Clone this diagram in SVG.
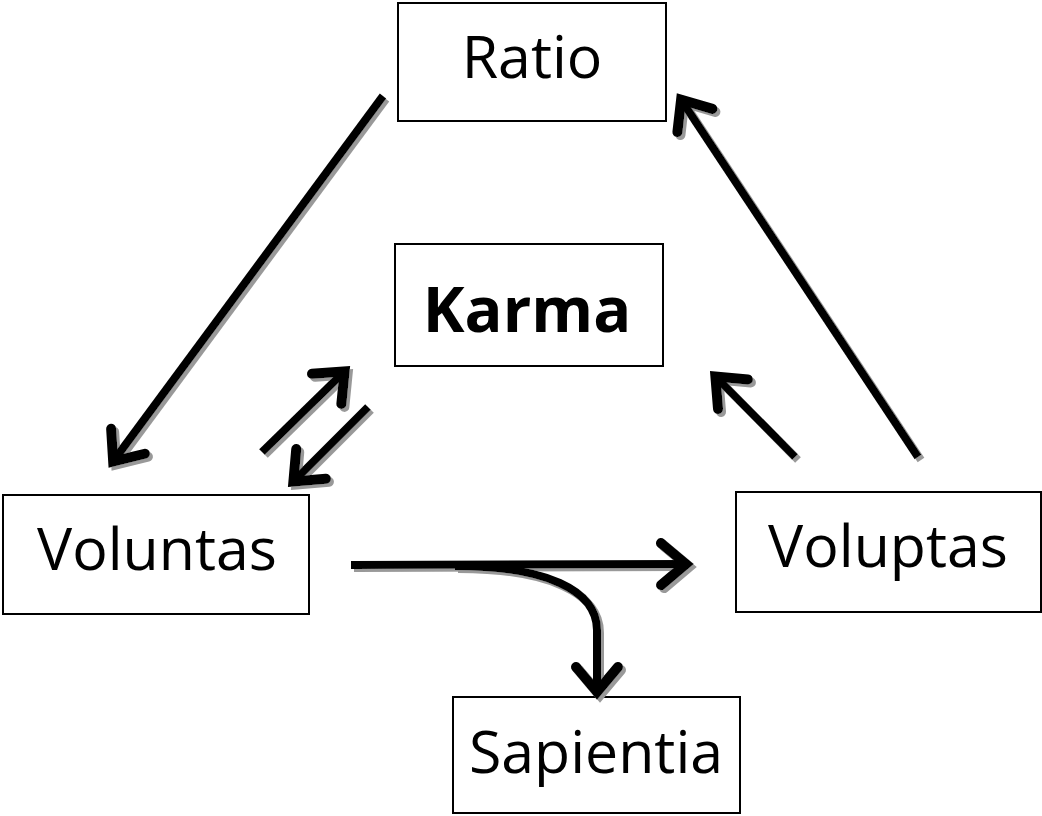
<svg xmlns="http://www.w3.org/2000/svg" width="1042" height="816" viewBox="0 0 1042 816">
<style>
.box{fill:#fff;stroke:#000;stroke-width:2}
.lbl{font-family:"Open Sans",Lato,sans-serif;font-size:59px;fill:#000;text-anchor:middle}
.bold{font-weight:bold;font-size:63px}
.conn{fill:none;stroke:#000;stroke-width:8;stroke-linecap:butt}
</style>
<defs>
<marker id="ah" markerUnits="userSpaceOnUse" markerWidth="60" markerHeight="60" refX="0" refY="0" viewBox="-40 -30 50 60" orient="auto" overflow="visible">
<path d="M-27,-21 L-2,0 L-27,21" fill="none" stroke="#000" stroke-width="10" stroke-linecap="round" stroke-linejoin="miter"/>
</marker>
<filter id="sh" x="-10%" y="-10%" width="120%" height="120%">
<feOffset in="SourceAlpha" dx="3" dy="3" result="o"/>
<feFlood flood-color="#999"/>
<feComposite in2="o" operator="in" result="s"/>
<feMerge><feMergeNode in="s"/><feMergeNode in="SourceGraphic"/></feMerge>
</filter>
</defs>
<rect width="1042" height="816" fill="#fff"/>
<g id="ratio"><rect class="box" x="398" y="3" width="268" height="118"/><text class="lbl" x="532" y="78">Ratio</text></g>
<g id="karma"><rect class="box" x="395" y="244" width="268" height="122"/><text class="lbl bold" x="527" y="332">Karma</text></g>
<g id="voluntas"><rect class="box" x="3" y="495" width="306" height="119"/><text class="lbl" x="157" y="570">Voluntas</text></g>
<g id="voluptas"><rect class="box" x="736" y="492" width="305" height="120"/><text class="lbl" x="888" y="567">Voluptas</text></g>
<g id="sapientia"><rect class="box" x="453" y="697" width="287" height="116"/><text class="lbl" x="596" y="773">Sapientia</text></g>
<g id="connectors" filter="url(#sh)">
<path class="conn" d="M383,96 L112,463" marker-end="url(#ah)"/>
<path class="conn" d="M262,452 L346,370" marker-end="url(#ah)"/>
<path class="conn" d="M368,407 L292,483" marker-end="url(#ah)"/>
<path class="conn" d="M795,457 L714,375" marker-end="url(#ah)"/>
<path class="conn" d="M918,457 L680,98" marker-end="url(#ah)"/>
<path class="conn" d="M351,565 L688,564" marker-end="url(#ah)"/>
<path class="conn" d="M455,566 C545,566 597,590 597,630 L597,694" marker-end="url(#ah)"/>
</g>
</svg>
